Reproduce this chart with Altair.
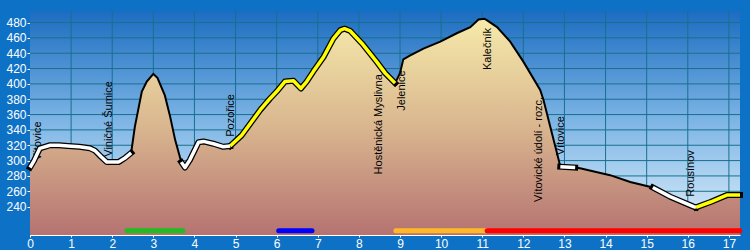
import altair as alt
import pandas as pd

# ---- data -------------------------------------------------------------
km = [0.0, 0.1, 0.24, 0.49, 0.7, 0.93, 1.2, 1.46, 1.58, 1.73, 1.87, 2.15, 2.3, 2.46,
      2.55, 2.72, 2.84, 3.0, 3.1, 3.28, 3.41, 3.53, 3.68, 3.77, 3.89, 4.1, 4.22, 4.46,
      4.7, 4.87, 5.15, 5.6, 5.84, 6.0, 6.2, 6.41, 6.59, 6.73, 6.89, 7.14, 7.38, 7.55,
      7.65, 7.79, 8.07, 8.43, 8.64, 8.88, 9.0, 9.08, 9.25, 9.57, 9.98, 10.38, 10.71,
      10.91, 11.05, 11.11, 11.36, 11.68, 12.0, 12.41, 12.49, 12.85, 12.9, 13.26, 13.38,
      14.11, 14.6, 15.15, 15.57, 16.14, 16.2, 16.55, 16.95, 17.27]
elev = [291, 300, 316, 320, 320, 319, 318, 316, 313, 305, 298, 298, 303, 310,
        344, 390, 403, 413, 408, 385, 357, 327, 298, 291, 301, 324, 325, 322,
        318, 319, 333, 366, 381, 390, 403, 404, 394, 403, 416, 435, 459, 470,
        472, 469, 453, 429, 414, 401, 414, 432, 437, 446, 455, 466, 474,
        484, 485, 483, 474, 455, 429, 392, 379, 303, 292, 291, 290,
        281, 272, 265, 253, 240, 239, 246, 255, 255]

# highlighted line segments: start km, end km, colour
seg_start = [0.0, 3.68, 4.87, 12.9, 15.15, 16.2]
seg_end = [2.46, 4.87, 8.88, 13.26, 16.2, 17.27]
seg_color = ["#FFFFFF", "#FFFFFF", "#FFFF00", "#FFFFFF", "#FFFFFF", "#FFFF00"]

# place labels: km, elevation where text starts, name
label_km = [0.19, 1.91, 4.89, 8.5, 9.05, 11.15, 12.38, 12.92, 16.07]
label_elev = [300, 305, 331, 282, 365, 418, 246, 307, 253]
label_text = ["Vítovice", "Viničné Šumice", "Pozořice", "Hostěnická Myslivna",
              "Jelenice", "Kalečník", "Vítovické údolí - rozc.", "Vítovice", "Rousínov"]

# coloured bars at the bottom
bar_start = [2.36, 6.05, 8.9, 11.12]
bar_end = [3.72, 6.86, 11.1, 17.27]
bar_color = ["#22BB22", "#0000FF", "#FFB928", "#FF0000"]
bar_level = 208.5

x_ticks = list(range(0, 18))
y_ticks = list(range(240, 481, 20))
x_dom = [0, 17.27]
y_dom = [203, 495]

# ---- tables -----------------------------------------------------------
prof = pd.DataFrame({"km": km, "elev": elev})
rows = []
for i, (s, e, c) in enumerate(zip(seg_start, seg_end, seg_color)):
    for k, v in zip(km, elev):
        if s - 1e-9 <= k <= e + 1e-9:
            rows.append({"km": k, "elev": v, "seg": i, "col": c})
segs = pd.DataFrame(rows)
labels = pd.DataFrame({"km": label_km, "elev": label_elev, "name": label_text})
bars = pd.DataFrame({"s": bar_start, "e": bar_end, "col": bar_color,
                     "lvl": [bar_level] * len(bar_start)})

xs = alt.Scale(domain=x_dom, nice=False, zero=False)
ys = alt.Scale(domain=y_dom, nice=False, zero=False)

x_axis = alt.Axis(values=x_ticks, grid=False, labelColor="white", domainColor="white",
                  tickColor="white", tickSize=2, labelFontSize=12, labelFlush=False,
                  labelOverlap=False, labelFont="Liberation Sans", labelPadding=1,
                  title=None, format="d")
y_axis = alt.Axis(values=y_ticks, grid=False, labelColor="white", domainColor="white",
                  tickColor="white", tickSize=3, labelFontSize=12, labelFont="Liberation Sans",
                  labelOverlap=False, labelPadding=1, title=None, format="d")


def X(f):
    return alt.X(f, type="quantitative", scale=xs, axis=x_axis)


def Y(f):
    return alt.Y(f, type="quantitative", scale=ys, axis=y_axis)


sky = alt.Chart(alt.Data(values=[{}])).mark_rect(
    fill=alt.Gradient(gradient="linear", x1=0, x2=0, y1=0, y2=1,
                      stops=[alt.GradientStop(color="#1C6CC0", offset=0),
                             alt.GradientStop(color="#7FB6E6", offset=0.5),
                             alt.GradientStop(color="#E2F1FB", offset=1)])
).encode(
    x=alt.datum(x_dom[0], scale=xs, axis=x_axis),
    x2=alt.datum(x_dom[1]),
    y=alt.datum(y_dom[0], scale=ys, axis=y_axis),
    y2=alt.datum(y_dom[1]),
)

vgrid = alt.Chart(pd.DataFrame({"t": x_ticks[1:]})).mark_rule(
    color="#17708F", strokeWidth=1).encode(x=X("t"))
hgrid = alt.Chart(pd.DataFrame({"t": y_ticks})).mark_rule(
    color="#17708F", strokeWidth=1).encode(y=Y("t"))

terrain = alt.Chart(prof).mark_area(
    clip=True,
    fill=alt.Gradient(gradient="linear", x1=0, x2=0, y1=0, y2=1,
                      stops=[alt.GradientStop(color="#F6EAAA", offset=0),
                             alt.GradientStop(color="#D9B68F", offset=0.5),
                             alt.GradientStop(color="#B57371", offset=1)])
).encode(
    x=X("km"),
    y=Y("elev"),
    y2=alt.datum(y_dom[0]),
)

text = alt.Chart(labels).mark_text(
    angle=270, align="left", baseline="middle", fontSize=11,
    font="Liberation Sans", color="black"
).encode(x=X("km"), y=Y("elev"), text="name:N")

thin = alt.Chart(prof).mark_line(color="black", strokeWidth=2, clip=True).encode(
    x=X("km"), y=Y("elev"))

outline = alt.Chart(segs).mark_line(color="black", strokeWidth=6, strokeJoin="round",
                                    strokeCap="square").encode(
    x=X("km"), y=Y("elev"), detail="seg:N")

colored = alt.Chart(segs).mark_line(strokeWidth=3.5, strokeJoin="round").encode(
    x=X("km"), y=Y("elev"), detail="seg:N",
    color=alt.Color("col:N", scale=None))

bar_layer = alt.Chart(bars).mark_rule(strokeWidth=5, strokeCap="round").encode(
    x=X("s"), x2="e:Q", y=Y("lvl"),
    color=alt.Color("col:N", scale=None))

chart = alt.layer(sky, vgrid, hgrid, terrain, text, thin, outline, colored, bar_layer).properties(
    width=710, height=224,
    padding={"left": 30, "top": 11, "right": 10, "bottom": 15},
    autosize=alt.AutoSizeParams(type="none"),
    background="#0D72C6",
).configure_view(strokeWidth=0)

chart.save("out.html", embed_options={"renderer": "svg", "actions": False})
